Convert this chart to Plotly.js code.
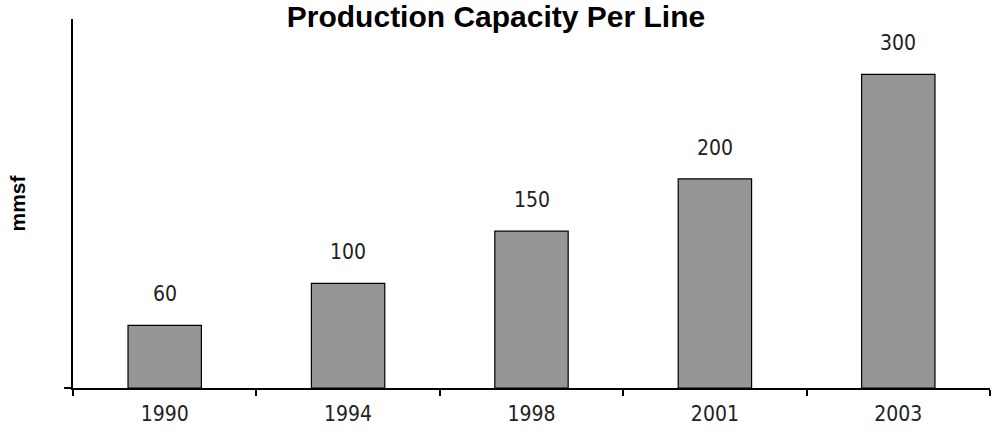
<!DOCTYPE html>
<html>
<head>
<meta charset="utf-8">
<script src="https://cdn.plot.ly/plotly-3.0.1.min.js"></script>
<style>html,body{margin:0;padding:0;background:#fff;}#chart{width:992px;height:438px;}</style>
</head>
<body>
<div id="chart"></div>
<script>
var years = ['1990', '1994', '1998', '2001', '2003'];
var capacity = [60, 100, 150, 200, 300];
var valueLabels = ['60', '100', '150', '200', '300'];

var labelFont = {family: 'Liberation Sans Narrow, Arial Narrow, DejaVu Sans Condensed, Liberation Sans, sans-serif', size: 21, color: '#222'};

var trace = {
  type: 'bar',
  x: years,
  y: capacity,
  marker: {color: '#969696', line: {color: '#000', width: 1.2}},
  hoverinfo: 'none'
};

var annotations = years.map(function (yr, i) {
  return {
    x: i, y: capacity[i], xref: 'x', yref: 'y',
    text: valueLabels[i], showarrow: false,
    yanchor: 'bottom', yshift: 17,
    font: labelFont
  };
});

var layout = {
  width: 992, height: 438,
  margin: {l: 73, r: 2, t: 19, b: 50},
  paper_bgcolor: '#fff', plot_bgcolor: '#fff',
  showlegend: false,
  bargap: 0.6,
  title: {
    text: '<b>Production Capacity Per Line</b>',
    font: {family: 'Liberation Sans, Arial, sans-serif', size: 30, color: '#000'},
    x: 0.5, xref: 'container', xanchor: 'center',
    y: 0.962, yref: 'container', yanchor: 'middle'
  },
  xaxis: {
    type: 'category',
    categoryarray: years, categoryorder: 'array',
    range: [-0.5, 4.5], autorange: false,
    showline: true, linecolor: '#000', linewidth: 2,
    ticks: 'outside', tickson: 'boundaries', ticklen: 6, tickwidth: 2, tickcolor: '#000',
    showgrid: false, zeroline: false, tickangle: 0,
    ticklabelstandoff: 6,
    tickfont: labelFont
  },
  yaxis: {
    range: [0, 353],
    showline: true, linecolor: '#000', linewidth: 2,
    ticks: 'outside', tickvals: [0], ticktext: [''], ticklen: 7, tickwidth: 2, tickcolor: '#000',
    showgrid: false, zeroline: false,
    title: {text: '<b>mmsf</b>', font: {family: 'Liberation Sans, Arial, sans-serif', size: 21, color: '#000'}, standoff: 30}
  },
  annotations: annotations
};

Plotly.newPlot('chart', [trace], layout, {staticPlot: true, displayModeBar: false});
</script>
</body>
</html>
